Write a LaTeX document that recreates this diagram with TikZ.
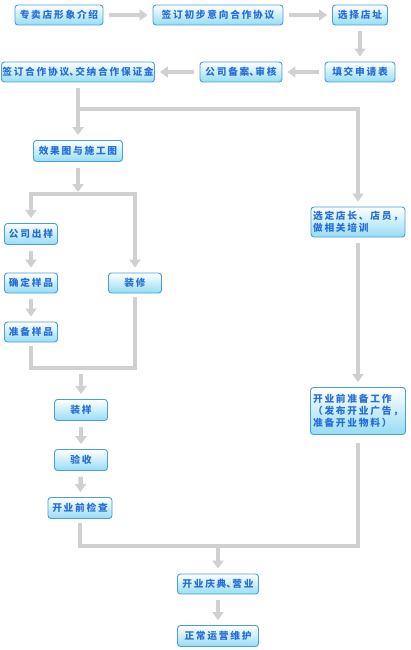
\documentclass[tikz,border=0pt]{standalone}
\usepackage{fontspec}
\usepackage{tikz}
\usetikzlibrary{arrows.meta,positioning,calc}
\newfontfamily\cjk[LetterSpace=18]{Noto Sans CJK SC}
\newcommand\halfdun{\makebox[6pt][l]{、}}
\definecolor{boxline}{RGB}{75,160,210}
\definecolor{boxfill}{RGB}{150,220,245}
\definecolor{boxtext}{RGB}{40,110,215}
\definecolor{flowgray}{RGB}{208,208,208}
\tikzset{
  stepbox/.style={draw=boxline,line width=0.9pt,rounded corners=3pt,top color=white,
    bottom color=boxfill,text=boxtext,font=\cjk\bfseries\fontsize{9.7}{12}\selectfont,
    inner sep=0pt,minimum height=20pt,align=center},
  flowline/.style={draw=flowgray,line width=4.5pt},
  flowarrow/.style={flowline,-{Triangle[width=11pt,length=8pt]},shorten >=5pt,shorten <=6pt}
}
\begin{document}
\begin{tikzpicture}[x=1pt,y=-1pt]
  \useasboundingbox (0,0) rectangle (410,650);
  \node[stepbox,minimum width=88pt] (intro) at (59,15) {专卖店形象介绍};
  \node[stepbox,minimum width=130pt] (prelim) at (218,15) {签订初步意向合作协议};
  \node[stepbox,minimum width=55pt] (site) at (360,15) {选择店址};
  \node[stepbox,minimum width=70pt] (apply) at (360,72) {填交申请表};
  \node[stepbox,minimum width=82pt] (record) at (241,72) {公司备案\halfdun 审核};
  \node[stepbox,minimum width=153pt] (contract) at (78,72) {签订合作协议\halfdun 交纳合作保证金};
  \node[stepbox,minimum width=89pt,minimum height=21pt] (design) at (78,151) {效果图与施工图};
  \node[stepbox,minimum width=94pt,minimum height=30pt,align=left] (staff) at (358,222) {选定店长、店员，\\做相关培训};
  \node[stepbox,minimum width=53pt,minimum height=21pt] (sample) at (31,234) {公司出样};
  \node[stepbox,minimum width=53pt] (confirm) at (31,283) {确定样品};
  \node[stepbox,minimum width=53pt] (decor) at (135,283) {装修};
  \node[stepbox,minimum width=53pt] (prepare) at (31,332) {准备样品};
  \node[stepbox,minimum width=53pt,minimum height=21pt] (install) at (81,410) {装样};
  \node[stepbox,minimum width=53pt,minimum height=21pt] (accept) at (81,460) {验收};
  \node[stepbox,minimum width=64pt,minimum height=21pt] (check) at (80,508) {开业前检查};
  \node[stepbox,minimum width=95pt,minimum height=47pt,align=left] (ready) at (358,411) {开业前准备工作\\（发布开业广告，\\准备开业物料）};
  \node[stepbox,minimum width=81pt] (opening) at (218,584) {开业庆典\halfdun 营业};
  \node[stepbox,minimum width=81pt,minimum height=21pt] (operate) at (218,636) {正常运营维护};
  \coordinate (forkA) at (78,109);
  \coordinate (forkB) at (78,194);
  \coordinate (joinA) at (81,368);
  \coordinate (joinB) at (218,546);
  \draw[flowarrow] (intro) -- (prelim);
  \draw[flowarrow] (prelim) -- (site);
  \draw[flowarrow] (site) -- (apply);
  \draw[flowarrow] (apply) -- (record);
  \draw[flowarrow] (record) -- (contract);
  \draw[flowarrow] (contract) -- (design);
  \draw[flowarrow,shorten <=-2pt] (forkA) -| (staff);
  \draw[flowarrow,shorten >=2pt] (design) -- (forkB);
  \draw[flowarrow,shorten <=-2pt] (forkB) -| (sample);
  \draw[flowarrow,shorten <=-2pt] (forkB) -| (decor);
  \draw[flowarrow] (sample) -- (confirm);
  \draw[flowarrow] (confirm) -- (prepare);
  \draw[flowline,shorten <=4pt,shorten >=4pt] (prepare.south) -- (prepare.south |- joinA) -| (decor.south);
  \draw[flowarrow] (joinA) -- (install);
  \draw[flowarrow] (install) -- (accept);
  \draw[flowarrow] (accept) -- (check);
  \draw[flowarrow] (staff) -- (ready);
  \draw[flowline,shorten <=4pt,shorten >=8pt] (check.south) -- (check.south |- joinB) -| (ready.south);
  \draw[flowarrow,shorten <=-2pt] (joinB) -- (opening);
  \draw[flowarrow] (opening) -- (operate);
\end{tikzpicture}
\end{document}
